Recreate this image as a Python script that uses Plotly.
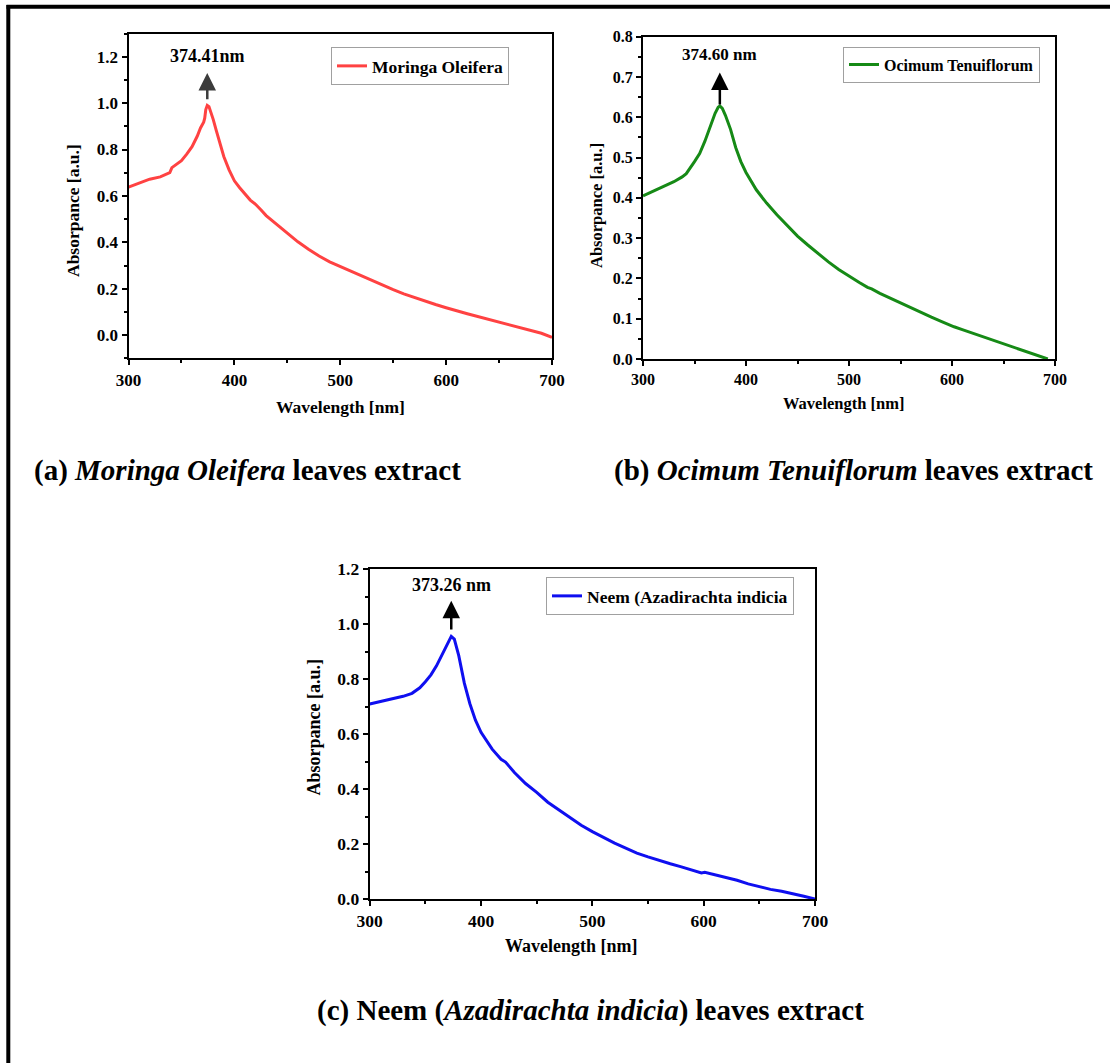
import plotly.graph_objects as go

# ---------------- data ----------------
wl_moringa = [300, 310, 320, 330, 336, 339, 341, 345, 350, 355, 360, 365, 368, 371, 372, 373,
              374.41, 376, 378, 380, 383, 386, 390, 395, 400, 405, 410, 415, 420, 422, 425, 430,
              440, 450, 460, 470, 480, 490, 500, 510, 518, 522, 530, 540, 550, 560, 570, 580,
              590, 600, 602, 610, 620, 630, 640, 650, 660, 670, 680, 690, 700]
abs_moringa = [0.638, 0.655, 0.672, 0.682, 0.695, 0.700, 0.722, 0.735, 0.752, 0.780, 0.812, 0.858,
               0.893, 0.918, 0.935, 0.972, 0.990, 0.985, 0.960, 0.930, 0.880, 0.830, 0.770, 0.712,
               0.665, 0.635, 0.606, 0.582, 0.564, 0.556, 0.540, 0.515, 0.476, 0.439, 0.402, 0.370,
               0.341, 0.316, 0.296, 0.274, 0.257, 0.252, 0.235, 0.215, 0.196, 0.178, 0.162, 0.147,
               0.132, 0.118, 0.115, 0.105, 0.092, 0.080, 0.069, 0.058, 0.046, 0.034, 0.021, 0.008,
               -0.010]

wl_ocimum = [300, 310, 320, 330, 338, 342, 350, 355, 360, 365, 370, 373, 374.60, 377, 380, 385,
             390, 395, 400, 410, 420, 430, 440, 450, 460, 470, 480, 490, 500, 510, 518, 522, 530,
             540, 550, 560, 570, 580, 590, 598, 602, 610, 620, 630, 640, 650, 660, 670, 680, 693]
abs_ocimum = [0.405, 0.417, 0.430, 0.440, 0.452, 0.460, 0.490, 0.510, 0.540, 0.575, 0.610, 0.625,
              0.628, 0.622, 0.605, 0.570, 0.525, 0.490, 0.463, 0.420, 0.387, 0.358, 0.332, 0.305,
              0.283, 0.261, 0.241, 0.222, 0.205, 0.190, 0.178, 0.174, 0.163, 0.151, 0.139, 0.127,
              0.115, 0.104, 0.093, 0.083, 0.080, 0.073, 0.064, 0.055, 0.046, 0.038, 0.029, 0.020,
              0.011, 0.000]

wl_neem = [300, 310, 320, 330, 338, 341, 345, 350, 355, 360, 365, 370, 373.26, 376, 380, 385,
           390, 395, 400, 410, 418, 422, 430, 440, 450, 460, 470, 480, 490, 500, 510, 520, 530,
           540, 550, 560, 570, 580, 590, 598, 601, 610, 620, 630, 640, 650, 660, 670, 680, 690, 700]
abs_neem = [0.709, 0.718, 0.728, 0.737, 0.748, 0.758, 0.768, 0.790, 0.815, 0.848, 0.890, 0.933,
            0.955, 0.945, 0.885, 0.785, 0.710, 0.650, 0.606, 0.545, 0.508, 0.498, 0.460, 0.420,
            0.388, 0.352, 0.325, 0.297, 0.268, 0.245, 0.223, 0.203, 0.185, 0.167, 0.153, 0.140,
            0.128, 0.117, 0.106, 0.095, 0.097, 0.088, 0.078, 0.068, 0.055, 0.045, 0.035, 0.028,
            0.020, 0.010, 0.000]

names = ["Moringa Oleifera", "Ocimum Tenuiflorum", "Neem (Azadirachta indicia"]
peak_labels = ["374.41nm", "374.60 nm", "373.26 nm"]
peak_wl = [374.41, 374.60, 373.26]
x_title = "Wavelength [nm]"
y_title = "Absorpance [a.u.]"
captions = ["<b>(a) <i>Moringa Oleifera</i> leaves extract</b>",
            "<b>(b) <i>Ocimum Tenuiflorum</i> leaves extract</b>",
            "<b>(c) Neem (<i>Azadirachta indicia</i>) leaves extract</b>"]

# ---------------- layout helpers ----------------
W, H = 1110, 1063
def px(x):
    return x / W
def py(y):
    return 1 - y / H

FONT = "Times New Roman, Liberation Serif, Times, serif"
RED, GREEN, BLUE = "#FF4242", "#168A16", "#0F0FF0"

fig = go.Figure()
fig.add_trace(go.Scatter(x=wl_moringa, y=abs_moringa, mode="lines", name=names[0],
                         line=dict(color=RED, width=3), xaxis="x", yaxis="y", legend="legend"))
fig.add_trace(go.Scatter(x=wl_ocimum, y=abs_ocimum, mode="lines", name=names[1],
                         line=dict(color=GREEN, width=3), xaxis="x2", yaxis="y2", legend="legend2"))
fig.add_trace(go.Scatter(x=wl_neem, y=abs_neem, mode="lines", name=names[2],
                         line=dict(color=BLUE, width=3), xaxis="x3", yaxis="y3", legend="legend3"))


def make_axis(domain, anchor, rng, tickvals, minor_dtick, fsize, tickformat=None):
    d = dict(domain=domain, anchor=anchor, range=rng, tickvals=tickvals,
             showline=True, linecolor="black", linewidth=2, mirror=True,
             ticks="outside", ticklen=5, tickwidth=1.5, tickcolor="black",
             minor=dict(ticks="outside", ticklen=3, tickwidth=1.5, tickcolor="black",
                        dtick=minor_dtick, showgrid=False),
             showgrid=False, zeroline=False, automargin=False,
             tickfont=dict(family=FONT, size=fsize, color="black", weight="bold"))
    if tickformat:
        d["tickformat"] = tickformat
    return d

xt = [300, 400, 500, 600, 700]
ya_t = [0.0, 0.2, 0.4, 0.6, 0.8, 1.0, 1.2]
yb_t = [0.0, 0.1, 0.2, 0.3, 0.4, 0.5, 0.6, 0.7, 0.8]

layout = dict(
    width=W, height=H, margin=dict(l=0, r=0, t=0, b=0, autoexpand=False),
    paper_bgcolor="white", plot_bgcolor="white",
    xaxis=make_axis([px(128.5), px(552)], "y", [300, 700], xt, 50, 17),
    yaxis=make_axis([py(358.3), py(33.5)], "x", [-0.1, 1.3], ya_t, 0.1, 17, ".1f"),
    xaxis2=make_axis([px(643), px(1055)], "y2", [300, 700], xt, 50, 16),
    yaxis2=make_axis([py(359), py(36.7)], "x2", [0, 0.8], yb_t, 0.05, 16, ".1f"),
    xaxis3=make_axis([px(369.7), px(815)], "y3", [300, 700], xt, 50, 17.5),
    yaxis3=make_axis([py(899), py(569)], "x3", [0, 1.2], ya_t, 0.1, 17.5, ".1f"),
    showlegend=True,
)

def legend_at(x, y, size):
    return dict(x=px(x), y=py(y), xanchor="left", yanchor="top", bgcolor="white",
                bordercolor="#A0A0A0", borderwidth=1,
                font=dict(family=FONT, size=size, color="black", weight="bold"))

layout["legend"] = legend_at(331, 47, 17.5)
layout["legend2"] = legend_at(843, 46.5, 16)
layout["legend3"] = legend_at(546, 577, 17.5)

annotations = []
# peak arrows + labels
arrow_specs = [("x", "y", peak_wl[0], 1.01, 1.13, 1.205, "#3C3C3C", 18),
               ("x2", "y2", peak_wl[1], 0.628, 0.711, 0.755, "black", 17),
               ("x3", "y3", peak_wl[2], 0.975, 1.085, 1.142, "black", 18)]
for i, (xr, yr, xw, tail, head, ty, col, fs) in enumerate(arrow_specs):
    annotations.append(dict(x=xw, y=head, ax=xw, ay=tail, xref=xr, yref=yr, axref=xr, ayref=yr,
                            showarrow=True, arrowhead=2, arrowsize=1.4, arrowwidth=2.5,
                            arrowcolor=col, text=""))
    annotations.append(dict(x=xw, y=ty, xref=xr, yref=yr, showarrow=False,
                            text="<b>" + peak_labels[i] + "</b>",
                            font=dict(family=FONT, size=fs, color="black")))

# axis titles (x-title centre, y-title centre) in pixels
title_specs = [((340, 407), (73, 211), 17.5),
               ((843.5, 403), (597, 205), 16.5),
               ((571, 946), (313.5, 727), 18)]
for (xc, yc), (xc2, yc2), fs in title_specs:
    annotations.append(dict(x=px(xc), y=py(yc), xref="paper", yref="paper", showarrow=False,
                            text="<b>" + x_title + "</b>", xanchor="center", yanchor="middle",
                            font=dict(family=FONT, size=fs, color="black")))
    annotations.append(dict(x=px(xc2), y=py(yc2), xref="paper", yref="paper", showarrow=False,
                            text="<b>" + y_title + "</b>", textangle=-90,
                            xanchor="center", yanchor="middle",
                            font=dict(family=FONT, size=fs, color="black")))

# captions
cap_pos = [(247.5, 470), (853.5, 470), (590, 1010)]
for cap, (cx, cy) in zip(captions, cap_pos):
    annotations.append(dict(x=px(cx), y=py(cy), xref="paper", yref="paper", showarrow=False,
                            text=cap, font=dict(family=FONT, size=29, color="black"),
                            xanchor="center", yanchor="middle"))
layout["annotations"] = annotations

# outer frame (top and left edges)
layout["shapes"] = [
    dict(type="line", xref="paper", yref="paper", x0=px(6.5), x1=1.0, y0=py(6.8), y1=py(6.8),
         line=dict(color="black", width=4)),
    dict(type="line", xref="paper", yref="paper", x0=px(8.3), x1=px(8.3), y0=py(5), y1=0,
         line=dict(color="black", width=4)),
]

fig.update_layout(**layout)
fig.write_html("out.html", config={"displayModeBar": False},
               post_script="document.body.style.margin='0';document.body.style.overflow='hidden';")
